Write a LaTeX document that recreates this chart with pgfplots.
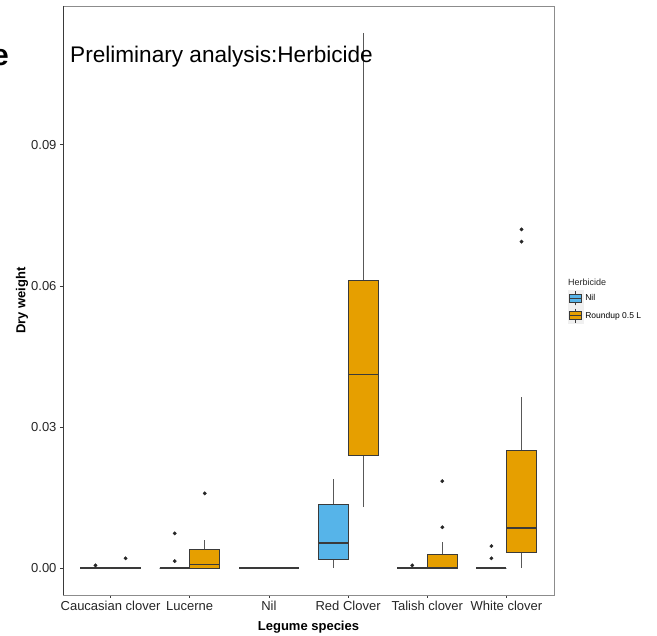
\documentclass[border=0pt]{standalone}
\usepackage{pgfplots}
\pgfplotsset{compat=1.18}
\usepgfplotslibrary{statistics}
\usepackage{fontspec}
\setmainfont{Liberation Sans}
\definecolor{nilblue}{HTML}{56B4E9}
\definecolor{rup}{HTML}{E69F00}
\definecolor{g20}{HTML}{3A3A3A}
\pgfplotsset{
  bx/.style 2 args={boxplot prepared={draw direction=y, box extend=0.38, whisker extend=0,
      every median/.style={line width=1.6pt, draw=g20},
      every whisker/.style={line width=0.7pt, draw=g20!85}, #2},
    fill=#1, draw=g20, line width=0.7pt, mark=*, mark size=1.7pt,
    mark options={fill=black!85, draw=black!85, solid, line width=0.4pt}, forget plot},
}
\begin{document}
\begin{tikzpicture}
\useasboundingbox (0pt,0pt) rectangle (657pt,636pt);
\node[anchor=east, font=\fontsize{30}{30}\selectfont\bfseries, inner sep=0pt] at (9pt,578pt) {e};
\begin{axis}[
  at={(63pt,41pt)}, anchor=south west, scale only axis,
  width=491pt, height=589pt,
  xmin=0.4, xmax=6.6, ymin=-0.0057, ymax=0.1195,
  xtick={1,2,3,4,5,6},
  xticklabels={Caucasian clover, Lucerne, Nil, Red Clover, Talish clover, White clover},
  ytick={0,0.03,0.06,0.09}, yticklabels={0.00,0.03,0.06,0.09},
  tick align=outside, xtick pos=left, ytick pos=left,
  major tick length=3pt, tick style={g20, line width=0.6pt},
  axis line style={draw=black!45, line width=0.7pt},
  tick label style={font=\fontsize{13}{15}\selectfont, text=black!85},
  xlabel={Legume species}, ylabel={Dry weight},
  label style={font=\fontsize{13}{15}\selectfont\bfseries},
  xlabel style={at={(axis description cs:0.5,-0.054)}, anchor=center},
  ylabel style={at={(axis description cs:-0.0835,0.5)}, anchor=center},
  legend style={at={(axis description cs:1.028,0.518)}, anchor=north west,
    draw=none, fill=none, font=\fontsize{8.5}{10}\selectfont, inner sep=0pt,
    row sep=1pt},
  legend cell align=left,
  legend image code/.code={
    \fill[black!6] (0pt,-8pt) rectangle (15pt,8pt);
    \draw[g20, line width=0.5pt] (7.5pt,-7pt) -- (7.5pt,7pt);
    \draw[#1, draw=g20, line width=0.5pt] (1.5pt,-4pt) rectangle (13.5pt,4pt);
    \draw[g20, line width=0.8pt] (1.5pt,0pt) -- (13.5pt,0pt);
  },
]
\addlegendimage{fill=nilblue}
\addlegendentry{Nil}
\addlegendimage{fill=rup}
\addlegendentry{Roundup 0.5 L}

% Caucasian clover
\addplot[bx={nilblue}{draw position=0.81, lower whisker=0, lower quartile=0, median=0, upper quartile=0, upper whisker=0}]
  table[row sep=\\, y index=0] {data\\ 0.0006\\};
\addplot[bx={rup}{draw position=1.19, lower whisker=0, lower quartile=0, median=0, upper quartile=0, upper whisker=0}]
  table[row sep=\\, y index=0] {data\\ 0.0021\\};
% Lucerne
\addplot[bx={nilblue}{draw position=1.81, lower whisker=0, lower quartile=0, median=0, upper quartile=0, upper whisker=0}]
  table[row sep=\\, y index=0] {data\\ 0.0074\\ 0.0015\\};
\addplot[bx={rup}{draw position=2.19, lower whisker=0, lower quartile=0, median=0.0008, upper quartile=0.0040, upper whisker=0.0059}]
  table[row sep=\\, y index=0] {data\\ 0.0159\\};
% Nil
\addplot[bx={nilblue}{draw position=3, box extend=0.75, lower whisker=0, lower quartile=0, median=0, upper quartile=0, upper whisker=0}]
  coordinates {};
% Red Clover
\addplot[bx={nilblue}{draw position=3.81, lower whisker=0, lower quartile=0.0019, median=0.0053, upper quartile=0.0136, upper whisker=0.0189}]
  coordinates {};
\addplot[bx={rup}{draw position=4.19, lower whisker=0.0130, lower quartile=0.0240, median=0.0412, upper quartile=0.0612, upper whisker=0.1138}]
  coordinates {};
% Talish clover
\addplot[bx={nilblue}{draw position=4.81, lower whisker=0, lower quartile=0, median=0, upper quartile=0, upper whisker=0}]
  table[row sep=\\, y index=0] {data\\ 0.0006\\};
\addplot[bx={rup}{draw position=5.19, lower whisker=0, lower quartile=0, median=0, upper quartile=0.0030, upper whisker=0.0055}]
  table[row sep=\\, y index=0] {data\\ 0.0087\\ 0.0185\\};
% White clover
\addplot[bx={nilblue}{draw position=5.81, lower whisker=0, lower quartile=0, median=0, upper quartile=0, upper whisker=0}]
  table[row sep=\\, y index=0] {data\\ 0.0021\\ 0.0047\\};
\addplot[bx={rup}{draw position=6.19, lower whisker=0, lower quartile=0.0034, median=0.0085, upper quartile=0.0251, upper whisker=0.0363}]
  table[row sep=\\, y index=0] {data\\ 0.0694\\ 0.0720\\};

\draw[g20, line width=0.7pt] (rel axis cs:0,1) -- (rel axis cs:0,0) -- (rel axis cs:1,0);
\end{axis}
\node[anchor=base west, font=\fontsize{22.6}{26}\selectfont, inner sep=0pt] at (70pt,573pt) {Preliminary analysis:Herbicide};
\node[anchor=west, font=\fontsize{9}{11}\selectfont, inner sep=0pt, text=black!85] at (568pt,354pt) {Herbicide};
\end{tikzpicture}
\end{document}
